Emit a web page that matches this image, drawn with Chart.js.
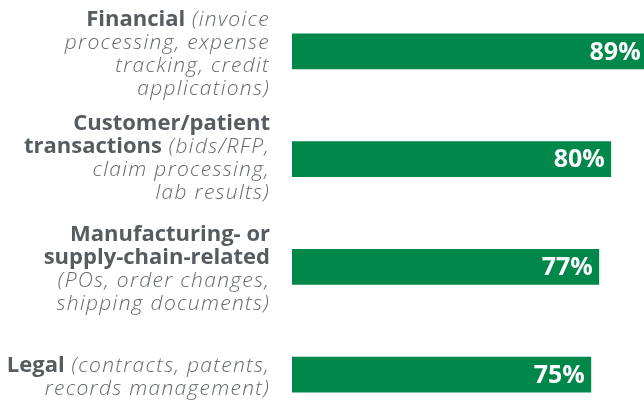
<!DOCTYPE html>
<html>
<head>
<meta charset="utf-8">
<script src="https://cdn.jsdelivr.net/npm/chart.js@4/dist/chart.umd.min.js"></script>
<style>
  html, body { margin: 0; padding: 0; background: #ffffff; overflow: hidden; width: 644px; height: 402px; }
  #wrap { position: absolute; left: 0; top: -3px; width: 700px; height: 434px; }
</style>
</head>
<body>
<div id="wrap"><canvas id="c" width="700" height="434"></canvas></div>
<script>
// ---- data ----
const categories = ["Financial", "Customer/patient transactions", "Manufacturing- or supply-chain-related", "Legal"];
// label text: "\n" = line break, *...* = bold part
const categoryLabels = [
  "*Financial* (invoice\nprocessing, expense\ntracking, credit\napplications)",
  "*Customer/patient*\n*transactions* (bids/RFP,\nclaim processing,\nlab results)",
  "*Manufacturing- or*\n*supply-chain-related*\n(POs, order changes,\nshipping documents)",
  "*Legal* (contracts, patents,\nrecords management)"
];
const values = [89, 80, 77, 75];
const valueLabels = ["89%", "80%", "77%", "75%"];

// ---- styling ----
const GREEN = "#00884a";
const BOLD_COLOR = "#575c61";
const ITALIC_COLOR = "#63686d";
const BOLD_FONT = "700 22px 'Open Sans'";
const ITALIC_FONT = "italic 300 21px 'Open Sans'";
const ITALIC_SPACING = "1.3px";
const LINE_H = 23;
const BASELINE_SHIFT = 9;
const LABEL_NUDGE = [0, -4, 0, 0];

function parseLine(line) {
  const parts = [];
  const re = /\*([^*]*)\*|([^*]+)/g;
  let m;
  while ((m = re.exec(line)) !== null) {
    if (m[1] !== undefined) parts.push({ text: m[1], bold: true });
    else parts.push({ text: m[2], bold: false });
  }
  return parts;
}

function setFont(ctx, bold) {
  ctx.font = bold ? BOLD_FONT : ITALIC_FONT;
  ctx.letterSpacing = bold ? "0px" : ITALIC_SPACING;
}

const labelPlugin = {
  id: 'richLabels',
  afterDatasetsDraw(chart) {
    const ctx = chart.ctx;
    const yScale = chart.scales.y;
    const xRight = chart.chartArea.left - 22;
    ctx.save();
    ctx.textBaseline = 'alphabetic';
    ctx.textAlign = 'left';
    categoryLabels.forEach((lbl, i) => {
      const lines = lbl.split("\n");
      const yc = yScale.getPixelForValue(i) + BASELINE_SHIFT + LABEL_NUDGE[i];
      const top = yc - (lines.length - 1) * LINE_H / 2;
      lines.forEach((line, li) => {
        const parts = parseLine(line);
        let total = 0;
        parts.forEach(p => { setFont(ctx, p.bold); p.w = ctx.measureText(p.text).width; total += p.w; });
        let x = xRight - total;
        const y = top + li * LINE_H;
        parts.forEach(p => {
          setFont(ctx, p.bold);
          ctx.fillStyle = p.bold ? BOLD_COLOR : ITALIC_COLOR;
          ctx.fillText(p.text, x, y);
          x += p.w;
        });
      });
    });
    // value labels inside bars
    ctx.letterSpacing = "0px";
    const meta = chart.getDatasetMeta(0);
    ctx.font = "700 25px 'Open Sans'";
    ctx.fillStyle = "#ffffff";
    ctx.textAlign = 'right';
    ctx.textBaseline = 'middle';
    meta.data.forEach((bar, i) => {
      ctx.fillText(valueLabels[i], bar.x - 6, bar.y + 1);
    });
    ctx.restore();
  }
};

new Chart(document.getElementById('c'), {
  type: 'bar',
  data: {
    labels: categories,
    datasets: [{
      data: values,
      backgroundColor: GREEN,
      borderWidth: 0,
      barThickness: 35
    }]
  },
  options: {
    indexAxis: 'y',
    responsive: false,
    animation: false,
    devicePixelRatio: 1,
    layout: { padding: { left: 292, right: 9.5, top: 0.5, bottom: 2.5 } },
    plugins: { legend: { display: false }, tooltip: { enabled: false } },
    scales: {
      x: { display: false, min: 0, max: 100 },
      y: { display: false }
    }
  },
  plugins: [labelPlugin]
});
</script>
</body>
</html>
